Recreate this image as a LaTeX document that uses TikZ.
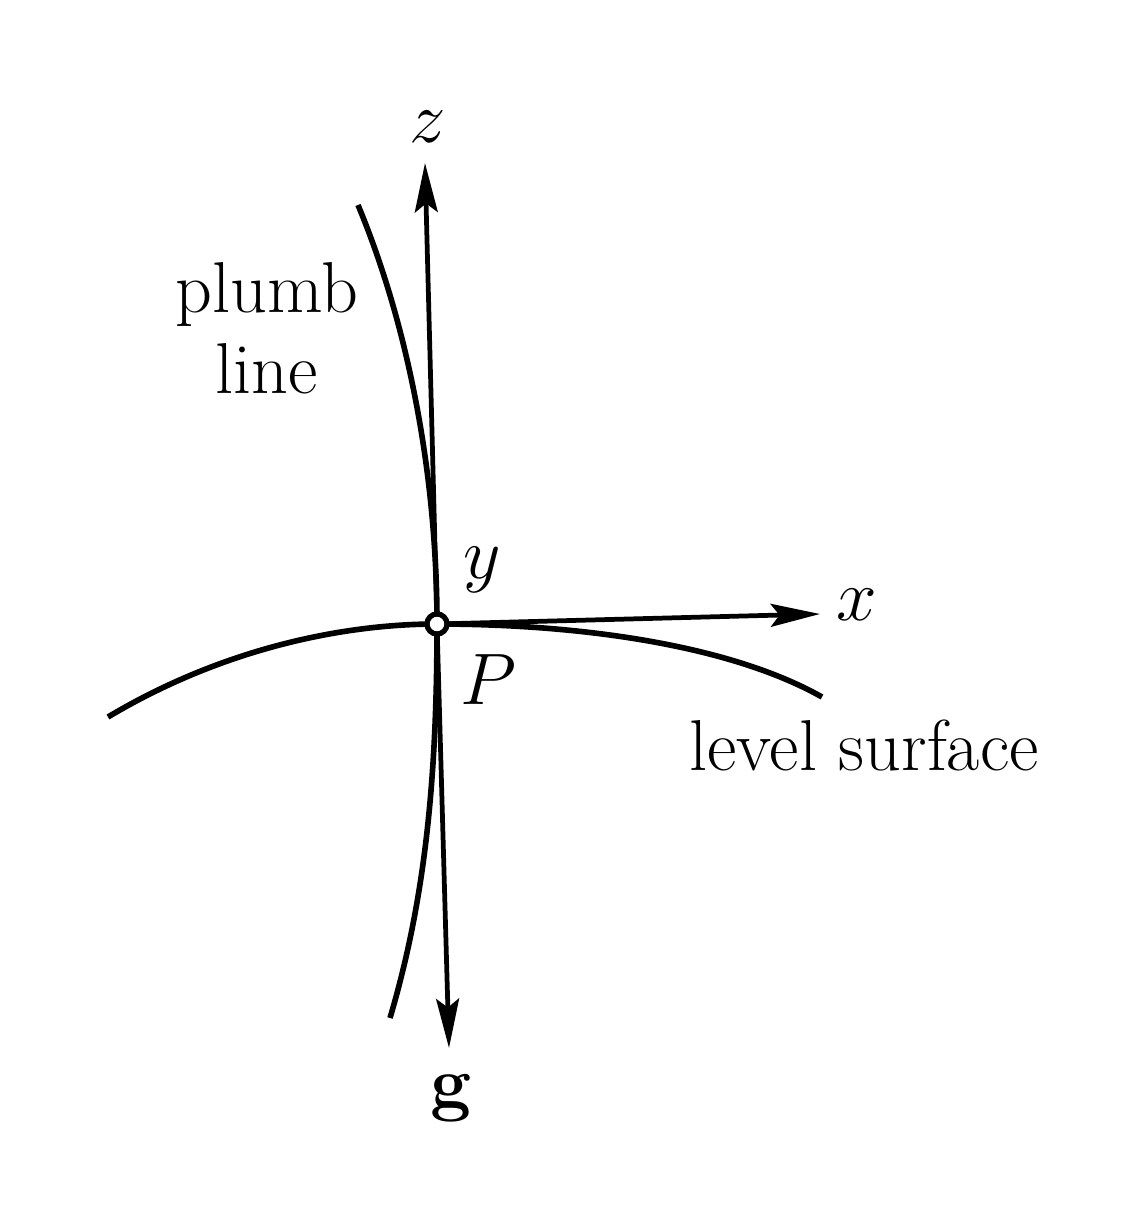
\documentclass[tikz,border=0pt]{standalone}
\usetikzlibrary{arrows.meta}
\begin{document}
\begin{tikzpicture}[x=0.01cm,y=-0.01cm,
  curve/.style={line width=1.6pt},
  axis/.style={line width=1.35pt,-{Stealth[length=14pt,width=6.5pt,inset=2.5pt]}},
  lbl/.style={inner sep=0pt,font=\fontsize{20.5}{23}\selectfont}]
\fill[white] (0,0) rectangle (1136,1206);
\useasboundingbox (0,0) rectangle (1136,1206);
\coordinate (O) at (437,624);
\coordinate (ztip) at (425,163);
\coordinate (gtip) at (449,1048);
\coordinate (xtip) at (820,614);
\coordinate (pl1) at (358,205);
\coordinate (pl2) at (390,1018);
\coordinate (ls1) at (108,717);
\coordinate (ls2) at (822,697);
% plumb line
\draw[curve] (pl1) .. controls (410,330) and (437,480) .. (O)
  .. controls (437,780) and (425,900) .. (pl2);
% level surface
\draw[curve] (ls1) .. controls (220,650) and (340,624) .. (O)
  .. controls (580,624) and (730,645) .. (ls2);
% axes
\draw[axis] (O) -- (ztip);
\draw[axis] (O) -- (gtip);
\draw[axis] (O) -- (xtip);
\node[circle,draw,fill=white,line width=1.5pt,inner sep=0pt,minimum size=0.2cm] (P) at (O) {};
% labels
\node[lbl] (zl) at (428,127) {$z$};
\node[lbl] (yl) at (482,570) {$y$};
\node[lbl] (xl) at (857,605) {$x$};
\node[lbl] (Pl) at (488,680) {$P$};
\node[lbl] (gl) at (452,1098) {$\mathbf{g}$};
\node[lbl,align=center] (plumb) at (267,328) {plumb\\[0pt]line};
\node[lbl] (level) at (864,745) {level surface};
\end{tikzpicture}
\end{document}
